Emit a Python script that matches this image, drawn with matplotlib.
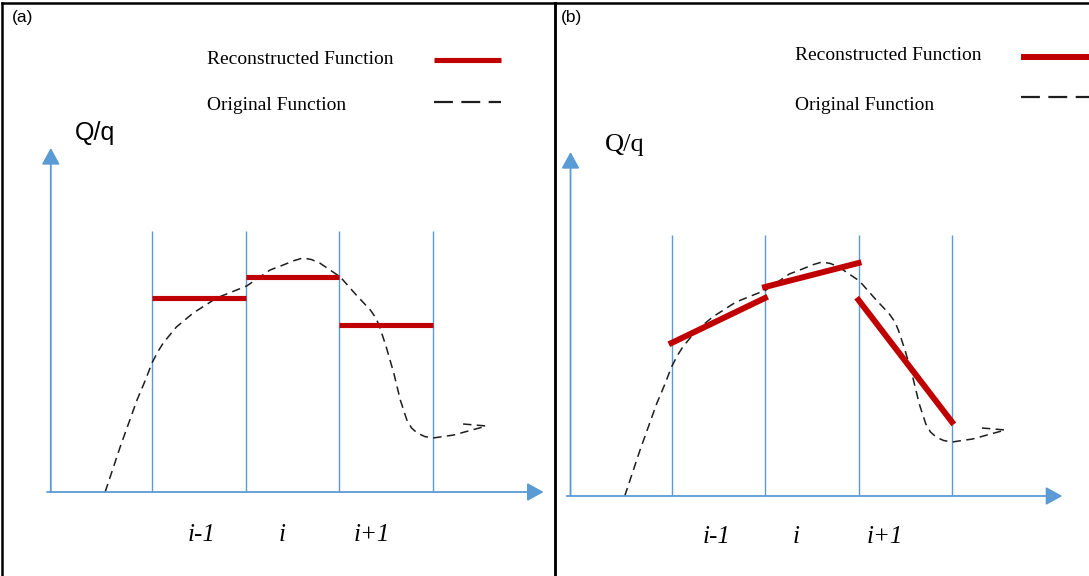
import matplotlib
matplotlib.use('Agg')
import matplotlib.pyplot as plt

W, H = 1089, 576
BLUE = '#5b9bd5'
RED = '#c00000'
DASH = '#1e1e1e'
SERIF = 'Liberation Serif'
SANS = 'Liberation Sans'

# cell edges in cell widths, cell i-1 starts at 0
cell_edges = [0, 1, 2, 3]
cell_top = 2.61
cell_labels = ['i-1', 'i', 'i+1']

# original function (x in cell widths, Q/q in arbitrary units)
orig_u = [-0.50, -0.34, -0.16, -0.07, 0.0, 0.06, 0.12, 0.26, 0.44, 0.69,
          1.01, 1.26, 1.40, 1.52, 1.61, 1.70, 1.79, 2.01, 2.18, 2.25, 2.33,
          2.39, 2.43, 2.50, 2.58, 2.65, 2.72, 2.77, 2.83, 2.91, 3.0, 3.22,
          3.57]
orig_q = [0.0, 0.45, 0.92, 1.12, 1.29, 1.40, 1.49, 1.65, 1.79, 1.94,
          2.06, 2.22, 2.27, 2.315, 2.34, 2.325, 2.29, 2.15, 1.97, 1.90, 1.82,
          1.74, 1.65, 1.45, 1.19, 0.92, 0.72, 0.64, 0.59, 0.555, 0.54, 0.57,
          0.66]
tail_u = [3.32, 3.57]
tail_q = [0.68, 0.66]

# (a) piecewise constant reconstruction, one value per cell
const_q = [1.945, 2.15, 1.675]
# (b) piecewise linear reconstruction, values at left / right edge of each cell
lin_left = [1.53, 2.09, 1.96]
lin_right = [1.98, 2.33, 0.74]

# coordinate axes of the sketch
x_axis_start = -1.12
x_axis_end = 4.18
y_axis_u = -1.08
y_axis_end = 3.44

fig = plt.figure(figsize=(W / 100, H / 100), dpi=100)


def make_panel(left_px, right_px, u0, du, q0, dq=100.0):
    ax = fig.add_axes([left_px / W, 0, (right_px - left_px) / W, (H - 3) / H])
    ax.set_xlim((left_px - u0) / du, (right_px - u0) / du)
    ax.set_ylim((q0 - H) / dq, (q0 - 3) / dq)
    ax.set_xticks([])
    ax.set_yticks([])
    ax.patch.set_visible(False)
    for side in ['top', 'left', 'right']:
        ax.spines[side].set_linewidth(1.8)
        ax.spines[side].set_color('black')
    ax.spines['bottom'].set_visible(False)

    def px(x, y):
        return (x - u0) / du, (q0 - y) / dq
    return ax, px


def draw_common(ax):
    arrow = dict(arrowstyle='-|>,head_length=0.4,head_width=0.22', color=BLUE,
                 lw=1.3, shrinkA=0, shrinkB=0, mutation_scale=25)
    ax.annotate('', xy=(x_axis_end, 0), xytext=(x_axis_start, 0),
                arrowprops=arrow, annotation_clip=False)
    ax.annotate('', xy=(y_axis_u, y_axis_end), xytext=(y_axis_u, 0),
                arrowprops=arrow, annotation_clip=False)
    ax.vlines(cell_edges, 0, cell_top, color=BLUE, lw=1.0)
    ax.plot(orig_u, orig_q, color=DASH, lw=1.1, ls=(0, (5.5, 3.5)))
    ax.plot(tail_u, tail_q, color=DASH, lw=1.1, ls=(0, (5.5, 3.5)))


def draw_legend(ax, px, text_x, ty1, ty2, kx0, kx1, ky1, ky2, red_lw):
    x, y = px(text_x, ty1)
    ax.text(x, y, 'Reconstructed Function', family=SERIF, fontsize=14,
            ha='left', va='center')
    x, y = px(text_x, ty2)
    ax.text(x, y, 'Original Function', family=SERIF, fontsize=14,
            ha='left', va='center')
    a, y1 = px(kx0, ky1)
    b, _ = px(kx1, ky1)
    ax.plot([a, b], [y1, y1], color=RED, lw=red_lw, solid_capstyle='butt')
    a, y2 = px(kx0, ky2)
    ax.plot([a, b], [y2, y2], color=DASH, lw=1.6, ls=(0, (8.5, 3.8)))


# ---- panel (a) ----
ax, px = make_panel(2, 555, u0=152, du=93.7, q0=492)
draw_common(ax)
for k in range(3):
    ax.plot(cell_edges[k:k + 2], [const_q[k]] * 2, color=RED, lw=3.7,
            solid_capstyle='butt')
draw_legend(ax, px, 207, 60, 106, 434, 501, 60, 102, 3.7)
x, y = px(12, 18)
ax.text(x, y, '(a)', family=SANS, fontsize=12.5, ha='left', va='center')
x, y = px(75, 133)
ax.text(x, y, 'Q/q', family=SANS, fontsize=18, ha='left', va='center')
for cx, lab in zip([202, 282, 372], cell_labels):
    x, y = px(cx, 535)
    ax.text(x, y, lab, family=SERIF, style='italic', fontsize=18,
            ha='center', va='center')

# ---- panel (b) ----
ax, px = make_panel(555, W, u0=671.5, du=93.5, q0=496)
ax.spines['right'].set_visible(False)
draw_common(ax)
for k in range(3):
    ax.plot(cell_edges[k:k + 2], [lin_left[k], lin_right[k]], color=RED,
            lw=4.3, solid_capstyle='projecting')
draw_legend(ax, px, 795, 56, 106, 1021, 1120, 57, 97, 4.3)
x, y = px(561, 18)
ax.text(x, y, '(b)', family=SANS, fontsize=12.5, ha='left', va='center')
x, y = px(605, 145)
ax.text(x, y, 'Q/q', family=SERIF, fontsize=19, ha='left', va='center')
for cx, lab in zip([717, 796, 885], cell_labels):
    x, y = px(cx, 537)
    ax.text(x, y, lab, family=SERIF, style='italic', fontsize=18,
            ha='center', va='center')

fig.savefig('out.png', dpi=100)
